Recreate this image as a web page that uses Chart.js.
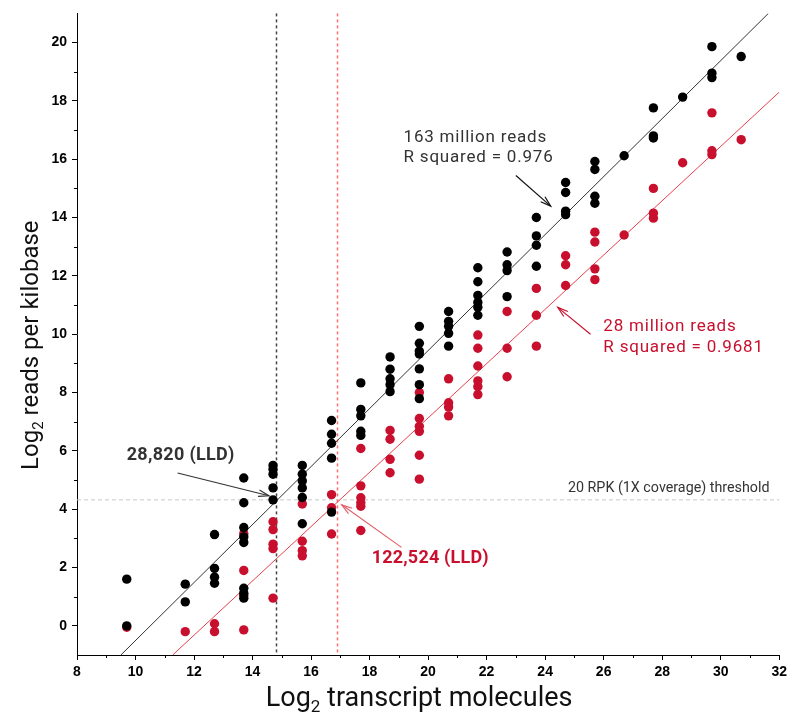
<!DOCTYPE html>
<html>
<head>
<meta charset="utf-8">
<script src="https://cdn.jsdelivr.net/npm/chart.js@4/dist/chart.umd.min.js"></script>
<style>
  html, body { margin: 0; padding: 0; background: #fff; }
  #wrap { width: 791px; height: 713px; position: relative; }
</style>
</head>
<body>
<div id="wrap"><canvas id="chart" width="791" height="713"></canvas></div>
<script>
// Log2 transcript molecules for each spike-in group
const molecules = [9.7, 11.7, 12.7, 13.7, 14.7, 15.7, 16.7, 17.7, 18.7, 19.7, 20.7,
                   21.7, 22.7, 23.7, 24.7, 25.7, 26.7, 27.7, 28.7, 29.7, 30.7];

// Log2 reads per kilobase, 163 million read library (one list per molecule group)
const rpk163M = [
  [1.6, 0], [1.43, 0.82], [3.13, 1.97, 1.67, 1.46],
  [5.07, 4.22, 3.37, 3.05, 2.86, 1.29, 1.12, 0.95],
  [5.5, 5.37, 5.2, 4.73, 4.32], [5.5, 5.2, 4.97, 4.73, 4.4, 3.5],
  [7.04, 6.57, 6.26, 5.75, 3.9], [8.33, 7.42, 7.2, 6.67, 6.53],
  [9.22, 8.8, 8.47, 8.27, 8.03], [10.27, 9.69, 9.42, 9.32, 8.81, 8.27, 7.79],
  [10.78, 10.44, 10.27, 10.03, 9.59], [12.28, 11.8, 11.33, 11.09, 10.92, 10.65],
  [12.82, 12.38, 12.18, 11.29], [14.0, 13.37, 13.05, 12.33],
  [15.2, 14.86, 14.22, 14.1], [15.92, 15.65, 14.73, 14.49], [16.12],
  [17.76, 16.8, 16.73], [18.13], [19.86, 18.95, 18.8], [19.52]
];

// Log2 reads per kilobase, 28 million read library
const rpk28M = [
  [-0.05], [-0.2], [0.07, -0.2], [3.16, 1.9, 1.05, -0.14],
  [3.57, 3.3, 2.8, 2.65, 0.95], [4.18, 2.9, 2.58, 2.4], [4.5, 4.05, 3.15],
  [6.08, 4.8, 4.39, 4.22, 4.1, 3.27], [6.7, 6.4, 5.71, 5.25],
  [8.0, 7.11, 6.84, 6.67, 5.85, 5.03], [8.47, 7.65, 7.5, 7.2],
  [9.97, 9.52, 8.91, 8.4, 8.2, 7.93], [10.78, 9.52, 8.54], [11.57, 10.65, 9.59],
  [12.69, 12.38, 11.67], [13.5, 13.16, 12.24, 11.87], [13.4],
  [15.0, 14.15, 13.98], [15.88], [17.59, 16.29, 16.16], [16.67]
];

// Regression line end points
const fit163MX = [9.5, 31.63];
const fit163MY = [-1, 21];
const fit28MX = [11.27, 32];
const fit28MY = [-1, 18.3];

// Lower limits of detection (log2 molecules) and coverage threshold (log2 RPK)
const lld163M = 14.81;   // 28,820 molecules
const lld28M = 16.90;    // 122,524 molecules
const rpkThreshold = 4.32; // 20 RPK

const xTicks = [8, 10, 12, 14, 16, 18, 20, 22, 24, 26, 28, 30, 32];
const yTicks = [0, 2, 4, 6, 8, 10, 12, 14, 16, 18, 20];

const RED = '#c8102e';

function toPoints(xs, groups) {
  const pts = [];
  groups.forEach((ys, i) => ys.forEach(y => pts.push({ x: xs[i], y })));
  return pts;
}
function zipXY(xs, ys) { return xs.map((x, i) => ({ x, y: ys[i] })); }

// Text labels and arrows, positioned in data coordinates
const notes = [
  { lines: ['163 million reads', 'R squared = 0.976'], x: 19.16, y: 16.75, gap: 0.69,
    align: 'left', color: '#333', font: '400 17px Roboto', spacing: '0.8px' },
  { lines: ['28 million reads', 'R squared = 0.9681'], x: 25.99, y: 10.27, gap: 0.72,
    align: 'left', color: RED, font: '400 17px Roboto', spacing: '0.8px' },
  { lines: ['28,820 (LLD)'], x: 9.7, y: 5.85, align: 'left', color: '#333', font: '700 18px Roboto', spacing: '0.3px' },
  { lines: ['122,524 (LLD)'], x: 18.07, y: 2.3, align: 'left', color: RED, font: '700 18px Roboto', spacing: '0.2px' },
  { lines: ['20 RPK (1X coverage) threshold'], x: 31.67, y: 4.7, align: 'right', color: '#333', font: '400 14.3px Roboto', spacing: '0px' }
];
const arrows = [
  { from: [23.0, 15.44], to: [24.19, 14.39], color: '#111' },
  { from: [25.55, 10.0], to: [24.43, 10.92], color: RED },
  { from: [11.44, 5.24], to: [14.56, 4.46], color: '#333' },
  { from: [19.09, 2.69], to: [17.05, 4.15], color: '#e0606a' }
];

const titleFamily = "Roboto, 'Noto Sans', sans-serif";
const axisTitles = {
  x: { base: 'Log', sub: '2', rest: ' transcript molecules' },
  y: { base: 'Log', sub: '2', rest: ' reads per kilobase' }
};

// Draws "Log" + subscript "2" + rest, centred on (0,0) of the current transform
function drawSubTitle(ctx, t, size) {
  const big = `400 ${size}px ${titleFamily}`;
  const small = `400 ${Math.round(size * 0.62)}px ${titleFamily}`;
  ctx.font = big; const w1 = ctx.measureText(t.base).width;
  ctx.font = small; const w2 = ctx.measureText(t.sub).width;
  ctx.font = big; const w3 = ctx.measureText(t.rest).width;
  let xx = -(w1 + w2 + w3) / 2;
  ctx.textAlign = 'left';
  ctx.textBaseline = 'alphabetic';
  const base = size * 0.36;
  ctx.font = big; ctx.fillText(t.base, xx, base); xx += w1;
  ctx.font = small; ctx.fillText(t.sub, xx, base + size * 0.22); xx += w2;
  ctx.font = big; ctx.fillText(t.rest, xx, base);
}

const overlay = {
  id: 'overlay',
  beforeDatasetsDraw(chart) {
    const { ctx, chartArea: a, scales: { x, y } } = chart;
    ctx.save();
    // coverage threshold
    ctx.strokeStyle = '#c8c8c8';
    ctx.lineWidth = 1;
    ctx.setLineDash([4, 3]);
    const ty = y.getPixelForValue(rpkThreshold);
    ctx.beginPath(); ctx.moveTo(a.left, ty); ctx.lineTo(a.right, ty); ctx.stroke();
    // detection limits
    ctx.lineWidth = 1.5;
    ctx.setLineDash([3, 3]);
    [[lld163M, '#444'], [lld28M, '#ff6f6f']].forEach(([v, c]) => {
      const px = Math.round(x.getPixelForValue(v)) + 0.5;
      ctx.strokeStyle = c;
      ctx.beginPath(); ctx.moveTo(px, a.top); ctx.lineTo(px, a.bottom); ctx.stroke();
    });
    ctx.restore();
  },
  afterDraw(chart) {
    const { ctx, chartArea: a, scales: { x, y } } = chart;
    ctx.save();
    // minor ticks
    ctx.strokeStyle = '#000';
    ctx.lineWidth = 1;
    ctx.setLineDash([]);
    for (let v = 9; v < 32; v += 2) {
      const px = Math.round(x.getPixelForValue(v)) + 0.5;
      ctx.beginPath(); ctx.moveTo(px, a.bottom); ctx.lineTo(px, a.bottom + 3); ctx.stroke();
    }
    for (let v = 1; v < 21; v += 2) {
      const py = Math.round(y.getPixelForValue(v)) + 0.5;
      ctx.beginPath(); ctx.moveTo(a.left, py); ctx.lineTo(a.left - 3, py); ctx.stroke();
    }
    // axis titles
    ctx.fillStyle = '#111';
    ctx.save();
    ctx.translate((a.left + a.right) / 2 - 9, a.bottom + 41);
    drawSubTitle(ctx, axisTitles.x, 27);
    ctx.restore();
    ctx.save();
    ctx.translate(29, (a.top + a.bottom) / 2 + 11);
    ctx.rotate(-Math.PI / 2);
    drawSubTitle(ctx, axisTitles.y, 24);
    ctx.restore();
    // text notes
    ctx.textBaseline = 'middle';
    notes.forEach(n => {
      ctx.font = n.font;
      ctx.fillStyle = n.color;
      ctx.textAlign = n.align;
      if ('letterSpacing' in ctx) ctx.letterSpacing = n.spacing || '0px';
      n.lines.forEach((t, i) => {
        ctx.fillText(t, x.getPixelForValue(n.x), y.getPixelForValue(n.y - i * (n.gap || 0)));
      });
    });
    if ('letterSpacing' in ctx) ctx.letterSpacing = '0px';
    // arrows
    arrows.forEach(ar => {
      const x0 = x.getPixelForValue(ar.from[0]), y0 = y.getPixelForValue(ar.from[1]);
      const x1 = x.getPixelForValue(ar.to[0]), y1 = y.getPixelForValue(ar.to[1]);
      const ang = Math.atan2(y1 - y0, x1 - x0);
      ctx.strokeStyle = ar.color;
      ctx.lineWidth = 1.2;
      ctx.beginPath(); ctx.moveTo(x0, y0); ctx.lineTo(x1, y1); ctx.stroke();
      const L = 11, w = 0.3;
      ctx.beginPath();
      ctx.moveTo(x1 - L * Math.cos(ang - w), y1 - L * Math.sin(ang - w));
      ctx.lineTo(x1, y1);
      ctx.lineTo(x1 - L * Math.cos(ang + w), y1 - L * Math.sin(ang + w));
      ctx.stroke();
    });
    ctx.restore();
  }
};

const tickFont = { family: "'Liberation Sans Narrow', 'Arial Narrow', 'Liberation Sans', sans-serif", size: 14, weight: 'bold' };

new Chart(document.getElementById('chart'), {
  type: 'scatter',
  data: {
    datasets: [
      { label: '163 million reads', data: toPoints(molecules, rpk163M), order: 0,
        backgroundColor: '#000', borderColor: '#000', pointRadius: 4.7, borderWidth: 0 },
      { label: '28 million reads', data: toPoints(molecules, rpk28M), order: 1,
        backgroundColor: RED, borderColor: RED, pointRadius: 4.7, borderWidth: 0 },
      { type: 'line', label: 'fit 163M', data: zipXY(fit163MX, fit163MY), order: 2,
        borderColor: '#333', borderWidth: 1, pointRadius: 0, fill: false },
      { type: 'line', label: 'fit 28M', data: zipXY(fit28MX, fit28MY), order: 3,
        borderColor: '#e8404e', borderWidth: 1, pointRadius: 0, fill: false }
    ]
  },
  options: {
    responsive: false,
    animation: false,
    layout: { padding: { top: 9, right: 10, left: 0, bottom: 0 } },
    plugins: { legend: { display: false }, tooltip: { enabled: false } },
    scales: {
      x: {
        type: 'linear', min: 8, max: 32,
        afterFit(s) { s.height = 58; },
        afterBuildTicks(s) { s.ticks = xTicks.map(v => ({ value: v })); },
        ticks: { color: '#000', font: tickFont, padding: 4, maxRotation: 0 },
        grid: { drawOnChartArea: false, tickLength: 5, color: '#000', tickColor: '#000' },
        border: { color: '#000', width: 1 },
        title: { display: false }
      },
      y: {
        type: 'linear', min: -1, max: 21,
        afterFit(s) { s.width = 77; },
        afterBuildTicks(s) { s.ticks = yTicks.map(v => ({ value: v })); },
        ticks: { color: '#000', font: tickFont, padding: 5 },
        grid: { drawOnChartArea: false, tickLength: 5, color: '#000', tickColor: '#000' },
        border: { color: '#000', width: 1 },
        title: { display: false }
      }
    }
  },
  plugins: [overlay]
});
</script>
</body>
</html>
